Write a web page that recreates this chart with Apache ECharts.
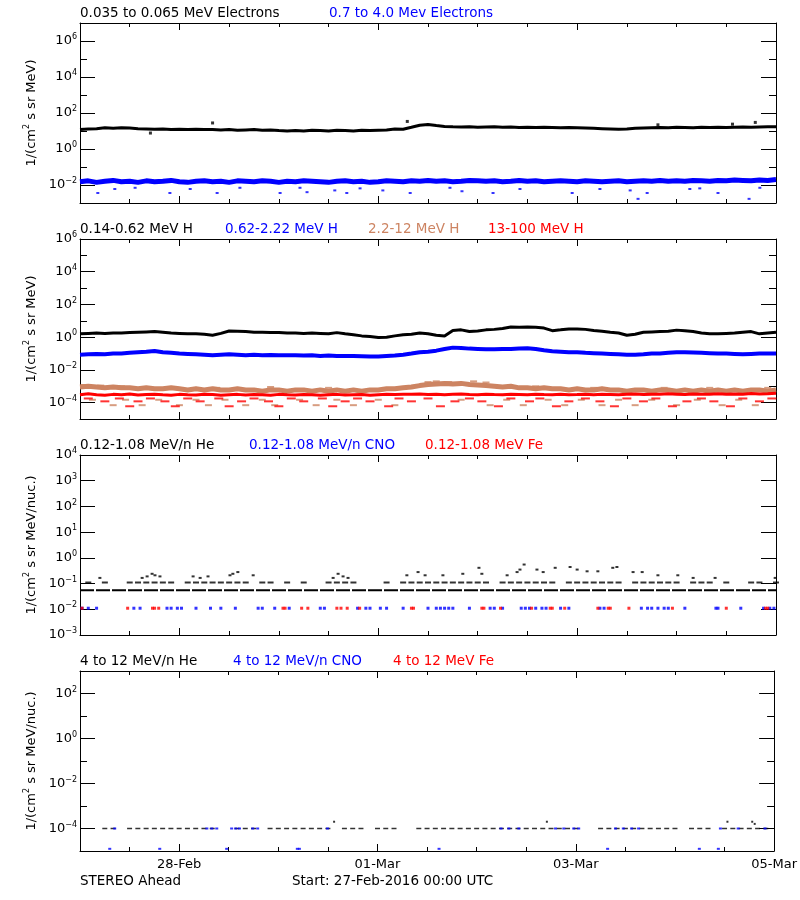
<!DOCTYPE html>
<html><head><meta charset="utf-8">
<script src="https://cdn.jsdelivr.net/npm/echarts@6/dist/echarts.min.js"></script>
<style>html,body{margin:0;padding:0;background:#fff}#c{width:800px;height:900px}</style>
</head><body><div id="c"></div>
<script>
// ---- time base: hours since 27-Feb-2016 00:00 UTC, 2-hour samples ----
const HOURS = Array.from({length: 85}, (_, i) => i * 2);
// date labels, keyed by hours before the end of the window (05-Mar 00:00)
const xLabelHoursBeforeEnd = [0, 48, 96, 144];
const xTickLabels = ['05-Mar', '03-Mar', '01-Mar', '28-Feb'];

// ---- Panel 1: electrons ----
const eLow = [12,13,13.5,15,14,15,14.5,13.5,13,12.5, 13,12,12.5,12,12.5,12,12,11.5,12,11,
  11.5,12,11,11.5,10.5,10,10.5,10,11,10.5, 10,11,10.5,10,11,10.5,11,11.5,13,12.5,
  16,21,23,20,18,17,16.5,17,16,16.5, 17,16,16.5,15.5,16,15.5,16,15.5,15,15.5,
  15,14.5,14,13.5,13,12.5,13,14,14.5,15, 15.5,15,16,15.5,15,16,15.5,16,15.5,16,
  16.5,16,16.5,17,17];
const eLowOut = [[32,28],[79,34],[139.5,22],[157.5,24],[163,30],[17,7.7]];
const eHigh = [0.015,0.017,0.014,0.016,0.018,0.015,0.016,0.014,0.017,0.015,0.016,0.018,0.015,0.014,0.016,0.017,0.015,0.016,0.014,0.017,
  0.016,0.015,0.017,0.016,0.014,0.016,0.015,0.017,0.016,0.015,0.014,0.016,0.017,0.015,0.016,0.014,0.015,0.017,0.016,0.015,
  0.017,0.016,0.018,0.016,0.017,0.015,0.016,0.018,0.017,0.016,0.017,0.015,0.016,0.018,0.016,0.017,0.015,0.016,0.017,0.016,
  0.015,0.017,0.016,0.015,0.016,0.017,0.015,0.016,0.017,0.016,0.018,0.016,0.017,0.016,0.018,0.017,0.016,0.018,0.017,0.019,
  0.018,0.017,0.019,0.018,0.02];
const eHighOut = [[4.3,0.0036],[8.4,0.006],[13.3,0.007],[21.7,0.0036],[26.6,0.006],[33.1,0.0036],[38.6,0.007],[48.3,0.0036],
  [53.1,0.007],[54.8,0.004],[61.5,0.005],[64.4,0.0036],[67.6,0.0065],[73.1,0.005],[79.7,0.0036],[89.3,0.007],[92.2,0.0045],
  [99.7,0.0036],[106.2,0.006],[118.8,0.0036],[125.5,0.006],[132.8,0.005],[134.7,0.0017],[136.9,0.0036],[147.2,0.006],
  [149.6,0.0065],[154,0.0036],[161.5,0.0017],[164.1,0.007]];

// ---- Panel 2: protons ----
const hLow = [1.6,1.7,1.8,1.7,1.8,1.8,1.9,2.0,2.1,2.2, 2.0,1.8,1.7,1.6,1.6,1.5,1.3,1.7,2.4,2.3,
  2.2,2.0,2.0,1.9,1.9,1.8,1.8,1.7,1.8,1.7, 1.6,1.9,1.6,1.4,1.2,1.1,0.95,1.0,1.2,1.4,
  1.5,1.8,1.6,1.3,1.2,2.6,2.8,2.2,2.4,2.8, 3.0,3.4,4.2,4.0,4.2,4.0,3.6,2.5,2.8,3.2,
  3.2,3.0,2.6,2.3,2.0,1.8,1.3,1.5,2.0,2.1, 2.2,2.3,2.7,2.5,2.2,1.8,1.6,1.6,1.7,1.8,
  2.0,2.2,1.6,1.8,2.0];
const hMid = [0.085,0.09,0.095,0.09,0.1,0.1,0.11,0.12,0.13,0.145, 0.12,0.11,0.1,0.095,0.09,0.085,0.08,0.085,0.09,0.085,
  0.08,0.085,0.08,0.082,0.08,0.078,0.08,0.075,0.078,0.072, 0.075,0.07,0.072,0.07,0.068,0.065,0.065,0.07,0.075,0.085,
  0.1,0.12,0.13,0.15,0.19,0.23,0.22,0.2,0.19,0.18, 0.18,0.19,0.19,0.2,0.21,0.19,0.16,0.14,0.13,0.12,
  0.12,0.11,0.105,0.1,0.095,0.09,0.085,0.085,0.09,0.1, 0.1,0.11,0.12,0.12,0.115,0.11,0.105,0.1,0.1,0.095,
  0.09,0.095,0.1,0.1,0.1];
const hHigh = [9e-4,1e-3,9e-4,8e-4,9e-4,8e-4,8e-4,7e-4,8e-4,7e-4, 7e-4,8e-4,7e-4,6e-4,7e-4,6e-4,7e-4,6e-4,6e-4,7e-4,
  6e-4,6e-4,5e-4,6e-4,6e-4,5e-4,6e-4,6e-4,5e-4,6e-4, 5e-4,6e-4,5e-4,6e-4,5e-4,6e-4,6e-4,7e-4,7e-4,8e-4,
  9e-4,1.1e-3,1.3e-3,1.4e-3,1.5e-3,1.4e-3,1.5e-3,1.3e-3,1.2e-3,1.1e-3, 1e-3,9e-4,1e-3,8e-4,8e-4,7e-4,8e-4,7e-4,7e-4,6e-4,
  7e-4,6e-4,6e-4,7e-4,6e-4,6e-4,5e-4,6e-4,6e-4,5e-4, 6e-4,6e-4,5e-4,6e-4,5e-4,6e-4,5e-4,6e-4,5e-4,6e-4,
  5e-4,6e-4,6e-4,5e-4,6e-4];
const hHighOut = [[1,1.2e-3],[3,1.5e-4],[5,1.1e-3],[8,7e-5],[11,1.5e-4],[15,7e-5],[19,1.5e-4],[24,7e-5],[28,1.5e-4],[31,7e-5],
  [35,1.5e-4],[40,7e-5],[44,1.5e-4],[47,7e-5],[53,1.5e-4],[57,7e-5],[62,1.5e-4],[66,7e-5],[72,1.5e-4],[76,7e-5],
  [86,2e-3],[89,1.8e-3],[92,1.5e-4],[95,2e-3],[99,7e-5],[103,1.5e-4],[107,7e-5],[113,1.5e-4],[117,7e-5],[121,1.5e-4],
  [126,7e-5],[130,1.5e-4],[134,7e-5],[138,1.5e-4],[144,7e-5],[149,1.5e-4],[155,7e-5],[159,1.5e-4],[163,7e-5],
  [4,9e-4],[10,1e-3],[22,8e-4],[33,8e-4],[46,9e-4],[60,8e-4],[84,1.8e-3],[91,1.6e-3],[98,1.7e-3],[110,1e-3],[124,8e-4],[141,8e-4],[152,8e-4],[166,8e-4]];
const hVHigh = [3e-4,3.5e-4,3e-4,2.8e-4,3.2e-4,3e-4,3.4e-4,2.9e-4,3.1e-4,3.3e-4, 3e-4,2.8e-4,3.2e-4,3e-4,2.9e-4,3.3e-4,3.1e-4,2.8e-4,3e-4,3.2e-4,
  2.9e-4,3.1e-4,3e-4,2.8e-4,3.2e-4,3e-4,2.9e-4,3.1e-4,3e-4,2.8e-4, 3e-4,3.2e-4,2.9e-4,3e-4,3.1e-4,2.8e-4,3e-4,3.2e-4,3.1e-4,3.3e-4,
  3.2e-4,3.4e-4,3.1e-4,3.3e-4,3e-4,3.2e-4,3.4e-4,3.1e-4,3e-4,3.3e-4, 3.1e-4,3e-4,3.2e-4,3.1e-4,3e-4,3.3e-4,3.1e-4,3e-4,3.2e-4,3e-4,
  3.1e-4,3.3e-4,3e-4,3.2e-4,3.1e-4,3e-4,3.2e-4,3.4e-4,3.1e-4,3.3e-4, 3.2e-4,3.5e-4,3.3e-4,3.1e-4,3.4e-4,3.2e-4,3.3e-4,3.5e-4,3.2e-4,3.4e-4,
  3.3e-4,3.6e-4,3.4e-4,3.5e-4,3.8e-4];
const hVHighOut = [[2,1.8e-4],[6,1.2e-4],[9.5,1.8e-4],[12,6e-5],[14,1.2e-4],[17,1.8e-4],[20.5,1.2e-4],[23,6e-5],[26,1.8e-4],[29,1.2e-4],
  [33.5,1.8e-4],[36,6e-5],[39,1.2e-4],[42,1.8e-4],[45.5,1.2e-4],[48,6e-5],[51,1.8e-4],[54,1.2e-4],[58.5,1.8e-4],[61,6e-5],
  [64,1.2e-4],[67,1.8e-4],[70,1.2e-4],[74.5,6e-5],[77,1.8e-4],[80,1.2e-4],[84,1.8e-4],[87,6e-5],[90.5,1.2e-4],[94,1.8e-4],
  [97,1.2e-4],[101,6e-5],[104,1.8e-4],[108.5,1.2e-4],[111,1.8e-4],[115,6e-5],[118,1.2e-4],[122,1.8e-4],[125.5,1.2e-4],[129,6e-5],
  [132,1.8e-4],[136,1.2e-4],[139,1.8e-4],[143,6e-5],[146.5,1.2e-4],[150,1.8e-4],[153,1.2e-4],[157,6e-5],[160,1.8e-4],[164,1.2e-4],[167,1.8e-4]];

// ---- Panel 3: 0.12-1.08 MeV/n ions ----
const heLow3 = [0.055,0.055,0.055,0.055,0.055,0.055,0.055,0.055,0.055,0.055, 0.055,0.055,0.055,0.055,0.055,0.055,0.055,0.055,0.055,0.055,
  0.055,0.055,0.055,0.055,0.055,0.055,0.055,0.055,0.055,0.055, 0.055,0.055,0.055,0.055,0.055,0.055,0.055,0.055,0.055,0.055,
  0.055,0.055,0.055,0.055,0.055,0.055,0.055,0.055,0.055,0.055, 0.055,0.055,0.055,0.055,0.055,0.055,0.055,0.055,0.055,0.055,
  0.055,0.055,0.055,0.055,0.055,0.055,0.055,0.055,0.055,0.055, 0.055,0.055,0.055,0.055,0.055,0.055,0.055,0.055,0.055,0.055,
  0.055,0.055,0.055,0.055,0.055];
const heMid3 = [null,0.11,null,0.11,null,null,0.11,0.11,0.11,0.11, 0.11,0.11,null,0.11,0.11,0.11,0.11,0.11,0.11,0.11,
  0.11,null,0.11,0.11,null,0.11,null,0.11,null,null, 0.11,0.11,0.11,0.11,null,null,null,0.11,null,0.11,
  0.11,0.11,0.11,0.11,0.11,0.11,0.11,0.11,0.11,0.11, null,0.11,0.11,0.11,0.11,0.11,0.11,0.11,null,0.11,
  0.11,0.11,0.11,0.11,0.11,0.11,null,0.11,0.11,0.11, 0.11,0.11,0.11,null,0.11,0.11,0.11,null,0.11,null,
  null,0.11,0.11,null,0.11];
const heHigh3 = [[4.8,0.166],[15,0.166],[16.2,0.19],[17.4,0.24],[18.1,0.21],[19.3,0.19],[27.3,0.19],[29,0.166],[30.9,0.19],
  [36.2,0.21],[36.9,0.24],[38.1,0.28],[41.8,0.21],[61.1,0.166],[62.3,0.24],[63.5,0.19],[64.7,0.166],[78.9,0.21],[81.6,0.28],
  [83.3,0.21],[87.6,0.21],[92.4,0.24],[96.3,0.41],[97,0.24],[103.1,0.21],[105.5,0.28],[106.2,0.35],[107.2,0.55],[110.3,0.35],
  [111.8,0.28],[114.7,0.41],[118.3,0.44],[120,0.35],[122.4,0.3],[125,0.3],[128.6,0.41],[129.6,0.44],[133.5,0.28],[135.7,0.28],
  [139.5,0.21],[144.3,0.21],[148,0.166],[153.3,0.166],[167.8,0.166]];
const cno3 = [[0.5,0.011],[2,0.011],[4,0.011],[13,0.011],[14.5,0.011],[21,0.011],[22,0.011],[23.5,0.011],[24.5,0.011],[28,0.011],
  [31.5,0.011],[34,0.011],[37.5,0.011],[43,0.011],[44,0.011],[47,0.011],[50.5,0.011],[58,0.011],[59,0.011],[67,0.011],
  [69,0.011],[70,0.011],[72.5,0.011],[74,0.011],[78,0.011],[84,0.011],[86,0.011],[87,0.011],[88,0.011],[89,0.011],
  [90,0.011],[94,0.011],[99,0.011],[100,0.011],[102,0.011],[106.5,0.011],[107.5,0.011],[108.5,0.011],[110,0.011],[111.5,0.011],
  [112.5,0.011],[116,0.011],[118,0.011],[125.5,0.011],[126.5,0.011],[135.5,0.011],[137,0.011],[138,0.011],[139.5,0.011],
  [141,0.011],[142,0.011],[146,0.011],[153.5,0.011],[154,0.011],[159.5,0.011],[165,0.011],[166.5,0.011],[167.5,0.011]];
const fe3 = [[0.5,0.011],[11.5,0.011],[17.5,0.011],[18,0.011],[19,0.011],[49,0.011],[49.5,0.011],[53.5,0.011],[55,0.011],
  [62,0.011],[63,0.011],[64.5,0.011],[67.5,0.011],[80,0.011],[80.5,0.011],[97,0.011],[97.5,0.011],[101.5,0.011],[109,0.011],
  [113.5,0.011],[114,0.011],[117,0.011],[125,0.011],[127.5,0.011],[128,0.011],[132.5,0.011],[143,0.011],[156,0.011],
  [165.5,0.011],[166,0.011]];

// ---- Panel 4: 4-12 MeV/n ions ----
const he4 = [null,null,null,1e-4,1e-4,null,1e-4,1e-4,1e-4,1e-4, 1e-4,1e-4,1e-4,1e-4,1e-4,1e-4,1e-4,null,null,1e-4,
  1e-4,1e-4,null,1e-4,1e-4,1e-4,1e-4,1e-4,1e-4,1e-4, 1e-4,null,1e-4,1e-4,1e-4,null,1e-4,1e-4,1e-4,null,
  null,1e-4,1e-4,1e-4,1e-4,1e-4,1e-4,1e-4,1e-4,1e-4, 1e-4,1e-4,1e-4,1e-4,1e-4,1e-4,1e-4,1e-4,1e-4,1e-4,
  1e-4,null,null,1e-4,1e-4,1e-4,1e-4,1e-4,1e-4,1e-4, 1e-4,1e-4,1e-4,null,1e-4,1e-4,1e-4,null,1e-4,1e-4,
  1e-4,1e-4,1e-4,1e-4,null];
const he4High = [[61.5,2e-4],[113,2e-4],[156.7,2e-4],[162.7,2e-4],[163.3,1.6e-4]];
const cno4 = [[8.4,1e-4],[30.7,1e-4],[31.9,1e-4],[33.1,1e-4],[36.7,1e-4],[37.7,1e-4],[38.6,1e-4],[41.8,1e-4],[43,1e-4],
  [59.9,1e-4],[101.9,1e-4],[103.8,1e-4],[106.2,1e-4],[115.1,1e-4],[117.1,1e-4],[119.5,1e-4],[120.7,1e-4],[129.6,1e-4],
  [131.5,1e-4],[133.5,1e-4],[135.2,1e-4],[155,1e-4],[159.3,1e-4],[165.8,1e-4],
  [7.2,1.25e-5],[19.3,1.25e-5],[35.5,1.25e-5],[52.6,1.25e-5],[53.1,1.25e-5],[86.9,1.25e-5],[127.7,1.25e-5],[149.9,1.25e-5],[154.5,1.25e-5]];
const fe4 = [];

// ---- styling / layout ----
const FONT = '"DejaVu Sans", sans-serif';
const BLUE = '#0000ff', RED = '#ff0000', SIENNA = '#cd8462', BLACK = '#000000';
const panels = [
  {top: 23, min: 1e-3, max: 1e7, major: [1e-2,1,1e2,1e4,1e6], minor: [1e-1,1e1,1e3,1e5], name: '1/(cm{s|2} s sr MeV)'},
  {top: 239, min: 1e-5, max: 1e6, major: [1e-4,1e-2,1,1e2,1e4,1e6], minor: [1e-3,1e-1,1e1,1e3,1e5], name: '1/(cm{s|2} s sr MeV)'},
  {top: 455, min: 1e-3, max: 1e4, major: [1e-3,1e-2,1e-1,1,1e1,1e2,1e3,1e4], minor: [], name: '1/(cm{s|2} s sr MeV/nuc.)'},
  {top: 671, min: 1e-5, max: 1e3, major: [1e-4,1e-2,1,1e2], minor: [1e-3,1e-1,1e1], name: '1/(cm{s|2} s sr MeV/nuc.)'}
];
const PH = 180;

const grids = [], xAxes = [], yAxes = [];
function expLabel(v) {
  const e = Math.round(Math.log10(v));
  return '{b|10}{e|' + (e < 0 ? '\u2212' + (-e) : e) + '}';
}
function tick(len, vals) {
  const t = {show: true, inside: true, length: len, lineStyle: {color: BLACK, width: 1}};
  if (vals) t.customValues = vals;
  return t;
}
panels.forEach((p, k) => {
  grids.push({left: 80, right: 24, top: p.top, height: PH, containLabel: false});
  const line = {show: true, onZero: false, lineStyle: {color: BLACK, width: 1}};
  // half-day ticks (series axis)
  const half = {type: 'value', gridIndex: k, min: 0, max: 168, interval: 12, splitLine: {show: false}};
  // two-day ticks, counted back from the end of the window
  const twoDay = {type: 'value', gridIndex: k, min: 0, max: 168, interval: 48, inverse: true, splitLine: {show: false}};
  xAxes.push(Object.assign({}, half, {position: 'bottom', axisLine: line, axisTick: tick(4), axisLabel: {show: false}}));
  xAxes.push(Object.assign({}, twoDay, {position: 'bottom', axisLine: {show: false}, axisTick: tick(7),
    axisLabel: {show: k === 3, margin: 7, showMinLabel: true, showMaxLabel: false,
      formatter: v => { const j = xLabelHoursBeforeEnd.indexOf(Math.round(v)); return j >= 0 ? xTickLabels[j] : ''; },
      color: BLACK, fontFamily: FONT, fontSize: 13}}));
  xAxes.push(Object.assign({}, half, {position: 'top', axisLine: line, axisTick: tick(4), axisLabel: {show: false}}));
  xAxes.push(Object.assign({}, twoDay, {position: 'top', axisLine: {show: false}, axisTick: tick(7), axisLabel: {show: false}}));

  const ybase = {type: 'log', logBase: 10, gridIndex: k, min: p.min, max: p.max, splitLine: {show: false}};
  const minorVals = p.minor.length ? p.minor : [p.min];
  yAxes.push(Object.assign({}, ybase, {position: 'left', axisLine: line, axisTick: tick(15, p.major),
    axisLabel: {customValues: p.major, margin: 3, formatter: expLabel,
      rich: {b: {fontSize: 13, fontFamily: FONT, color: BLACK}, e: {fontSize: 8, fontFamily: FONT, color: BLACK, padding: [0, 0, 8, 0]}}},
    name: p.name, nameLocation: 'middle', nameGap: 37,
    nameTextStyle: {fontSize: 13, fontFamily: FONT, color: BLACK,
      rich: {s: {fontSize: 8, fontFamily: FONT, color: BLACK, padding: [0, 0, 8, 0]}}}}));
  yAxes.push(Object.assign({}, ybase, {position: 'left', axisLine: {show: false}, axisTick: tick(7, minorVals), axisLabel: {show: false}}));
  yAxes.push(Object.assign({}, ybase, {position: 'right', axisLine: line, axisTick: tick(15, p.major), axisLabel: {show: false}}));
  yAxes.push(Object.assign({}, ybase, {position: 'right', axisLine: {show: false}, axisTick: tick(7, minorVals), axisLabel: {show: false}}));
});

function onGrid(vals) { return vals.map((v, i) => [HOURS[i], v]); }
function lineS(k, vals, color, width, z) {
  return {type: 'line', xAxisIndex: 4 * k, yAxisIndex: 4 * k, data: onGrid(vals), showSymbol: false,
    lineStyle: {color, width}, z: z || 2, silent: true};
}
function dots(k, data, color, size, z) {
  return {type: 'scatter', xAxisIndex: 4 * k, yAxisIndex: 4 * k, data, symbol: 'rect', symbolSize: size,
    itemStyle: {color}, z: z || 3, silent: true};
}
const series = [
  lineS(0, eLow, BLACK, 3), dots(0, eLowOut, BLACK, [3, 3]),
  lineS(0, eHigh, BLUE, 5), dots(0, eHighOut, BLUE, [3, 2]),
  lineS(1, hLow, BLACK, 3), lineS(1, hMid, BLUE, 4),
  lineS(1, hHigh, SIENNA, 5), dots(1, hHighOut, SIENNA, [7, 2]),
  lineS(1, hVHigh, RED, 3, 4), dots(1, hVHighOut, RED, [9, 2], 5),
  {type: 'line', xAxisIndex: 8, yAxisIndex: 8, data: onGrid(heLow3), showSymbol: false,
    lineStyle: {color: BLACK, width: 2, type: [14, 2]}, silent: true},
  dots(2, onGrid(heMid3).filter(d => d[1] != null), BLACK, [6, 2]),
  dots(2, heHigh3, BLACK, [3, 2]),
  dots(2, cno3, BLUE, [3, 3]), dots(2, fe3, RED, [3, 3], 4),
  dots(3, onGrid(he4).filter(d => d[1] != null), BLACK, [5, 1.5]),
  dots(3, he4High, BLACK, [2, 2]),
  dots(3, cno4, BLUE, [3, 2], 4), dots(3, fe4, RED, [3, 2], 5)
];

function txt(x, y, text, color) {
  return {type: 'text', x, y, silent: true,
    style: {text, fill: color, font: '13.5px ' + FONT, verticalAlign: 'middle', align: 'left'}};
}
const graphic = [
  txt(80, 13, '0.035 to 0.065 MeV Electrons', BLACK), txt(329, 13, '0.7 to 4.0 Mev Electrons', BLUE),
  txt(80, 229, '0.14-0.62 MeV H', BLACK), txt(225, 229, '0.62-2.22 MeV H', BLUE),
  txt(368, 229, '2.2-12 MeV H', SIENNA), txt(488, 229, '13-100 MeV H', RED),
  txt(80, 445, '0.12-1.08 MeV/n He', BLACK), txt(249, 445, '0.12-1.08 MeV/n CNO', BLUE), txt(425, 445, '0.12-1.08 MeV Fe', RED),
  txt(80, 661, '4 to 12 MeV/n He', BLACK), txt(233, 661, '4 to 12 MeV/n CNO', BLUE), txt(393, 661, '4 to 12 MeV Fe', RED),
  txt(80, 881, 'STEREO Ahead', BLACK), txt(292, 881, 'Start: 27-Feb-2016 00:00 UTC', BLACK)
];

const chart = echarts.init(document.getElementById('c'), null, {renderer: 'canvas'});
chart.setOption({animation: false, backgroundColor: '#fff', grid: grids, xAxis: xAxes, yAxis: yAxes, series, graphic});
</script></body></html>
